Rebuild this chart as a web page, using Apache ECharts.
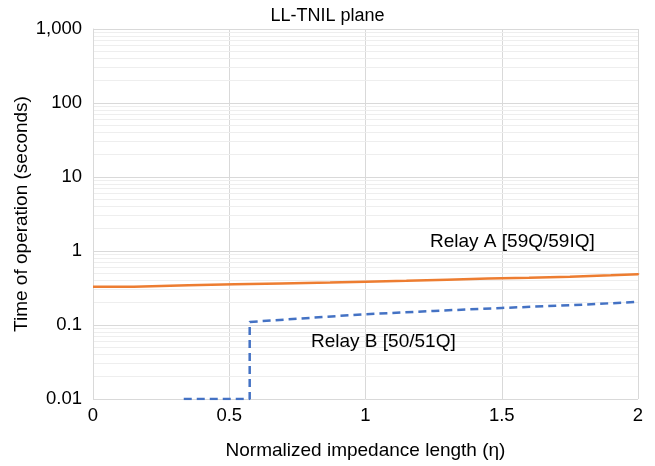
<!DOCTYPE html>
<html>
<head>
<meta charset="utf-8">
<style>
  html, body { margin: 0; padding: 0; background: #fff; }
  #chart { width: 655px; height: 466px; }
</style>
</head>
<body>
<div id="chart"></div>
<script src="https://cdn.jsdelivr.net/npm/echarts@6/dist/echarts.min.js"></script>
<script>
// Relay A [59Q/59IQ] - step curve (eta, seconds)
var relayA_x = [0, 0.15, 0.35, 0.52, 0.69, 0.87, 1.0, 1.15, 1.3, 1.45, 1.6, 1.75, 1.9, 2.0];
var relayA_t = [0.33, 0.345, 0.355, 0.365, 0.375, 0.385, 0.395, 0.41, 0.425, 0.435, 0.45, 0.47, 0.485, 0.5];

// Relay B [50/51Q]
var relayB_x = [0.333, 0.575, 0.575, 0.8, 1.0, 1.25, 1.5, 1.75, 2.0];
var relayB_t = [0.01, 0.01, 0.11, 0.125, 0.14, 0.155, 0.17, 0.185, 0.205];

var xTicks = [0, 0.5, 1, 1.5, 2];
var yDecades = [0.01, 0.1, 1, 10, 100];
var minorMult = [2, 3, 4, 5, 6, 7, 8, 9];

var FONT = 'Liberation Sans';

function pairs(xs, ys) {
  var out = [];
  for (var i = 0; i < xs.length; i++) out.push([xs[i], ys[i]]);
  return out;
}

var minorLines = [];
yDecades.forEach(function (d) {
  minorMult.forEach(function (m) {
    minorLines.push({ yAxis: +(d * m).toPrecision(3) });
  });
});

var chart = echarts.init(document.getElementById('chart'));
chart.setOption({
  animation: false,
  title: {
    text: 'LL-TNIL plane',
    left: 'center',
    top: 2,
    textStyle: { fontFamily: FONT, fontSize: 18, fontWeight: 'normal', color: '#000' }
  },
  grid: { left: 93, right: 17, top: 29, bottom: 67, outerBoundsMode: 'none', containLabel: false },
  xAxis: {
    type: 'value',
    min: 0,
    max: 2,
    interval: 0.5,
    name: 'Normalized impedance length (η)',
    nameLocation: 'middle',
    nameGap: 42,
    nameMoveOverlap: false,
    nameTextStyle: { fontFamily: FONT, fontSize: 19, color: '#000' },
    axisLine: { show: false },
    axisTick: { show: false },
    axisLabel: { fontFamily: FONT, fontSize: 18.5, color: '#000', margin: 7,
      formatter: function (v) { return xTicks.indexOf(v) >= 0 ? String(v) : ''; } },
    splitLine: { show: true, lineStyle: { color: '#d9d9d9', width: 1 } }
  },
  yAxis: {
    type: 'log',
    logBase: 10,
    min: 0.01,
    max: 1000,
    name: 'Time of operation (seconds)',
    nameLocation: 'middle',
    nameGap: 62,
    nameMoveOverlap: false,
    nameTextStyle: { fontFamily: FONT, fontSize: 19, color: '#000' },
    axisLine: { show: true, lineStyle: { color: '#d9d9d9' } },
    axisTick: { show: false },
    axisLabel: { fontFamily: FONT, fontSize: 18.5, color: '#000', margin: 11,
      formatter: function (v) { return v >= 1000 ? v.toLocaleString('en-US') : String(+v.toPrecision(3)); } },
    splitLine: { show: true, lineStyle: { color: '#d9d9d9', width: 1 } }
  },
  series: [
    {
      type: 'line',
      data: [],
      silent: true,
      z: 0,
      markLine: {
        silent: true,
        z: 0,
        symbol: ['none', 'none'],
        label: { show: false },
        lineStyle: { color: '#eeeeee', type: 'solid', width: 1 },
        emphasis: { disabled: true },
        data: minorLines
      }
    },
    {
      name: 'Relay A [59Q/59IQ]',
      type: 'line',
      step: 'end',
      showSymbol: false,
      z: 3,
      lineStyle: { color: '#ED7D31', width: 2.5 },
      data: pairs(relayA_x, relayA_t)
    },
    {
      name: 'Relay B [50/51Q]',
      type: 'line',
      showSymbol: false,
      z: 3,
      lineStyle: { color: '#4472C4', width: 2.5, type: [8, 5] },
      data: pairs(relayB_x, relayB_t)
    }
  ],
  graphic: [
    { type: 'text', left: 430, top: 232, z: 100,
      style: { text: 'Relay A [59Q/59IQ]', font: '19px "Liberation Sans"', fill: '#000' } },
    { type: 'text', left: 311, top: 332, z: 100,
      style: { text: 'Relay B [50/51Q]', font: '19px "Liberation Sans"', fill: '#000' } }
  ]
});
</script>
</body>
</html>
